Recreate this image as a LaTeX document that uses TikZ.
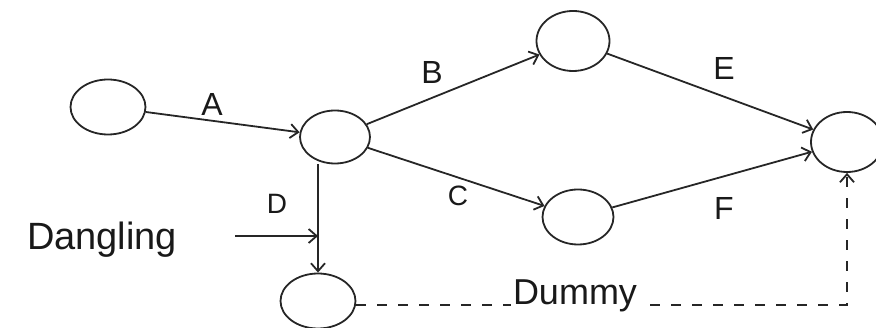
\documentclass[tikz,border=0pt]{standalone}
\usepackage{fontspec}
\setmainfont{Liberation Sans}
\usetikzlibrary{shapes.geometric,arrows.meta}
\begin{document}
\begin{tikzpicture}[x=1pt,y=-1pt,
  ev/.style={draw=black!85,ellipse,line width=1.8pt,inner sep=0pt},
  act/.style={draw=black!85,line width=1.8pt,-{Straight Barb[length=8pt,width=14pt,line width=1.8pt]}},
  lbl/.style={font=\fontsize{32}{34}\selectfont,text=black!90}]
\useasboundingbox (0,0) rectangle (876,328);
\node[ev,minimum width=75pt,minimum height=55pt] (n1) at (108,107) {};
\node[ev,minimum width=70pt,minimum height=53pt] (n2) at (335,137) {};
\node[ev,minimum width=73pt,minimum height=60pt] (n3) at (573,41) {};
\node[ev,minimum width=71pt,minimum height=55pt] (n4) at (578,217) {};
\node[ev,minimum width=72pt,minimum height=60pt] (n5) at (847,142) {};
\node[ev,minimum width=75pt,minimum height=55pt] (n6) at (318,301) {};
\draw[act] (n1) -- (n2);
\draw[act] (n2) -- (n3);
\draw[act] (n2) -- (n4);
\draw[act] (n3) -- (n5);
\draw[act] (n4) -- (n5);
\draw[act] (n6.north |- n2.south) -- (n6.north);
\node[lbl] (la) at (212,104) {A};
\node[lbl] (lb) at (432,72) {B};
\node[lbl,font=\fontsize{28}{30}\selectfont] (lc) at (458,196) {C};
\node[lbl,font=\fontsize{28}{30}\selectfont] (ld) at (277,204) {D};
\node[lbl] (le) at (724,68) {E};
\node[lbl] (lf) at (724,208) {F};
\node[lbl,font=\fontsize{38}{40}\selectfont] (dang) at (102,240) {Dangling};
\coordinate (dgs) at (235,236);
\draw[act] (dgs) -- (dgs -| n6.north);
\draw[act,dashed,dash pattern=on 10pt off 11pt] (n6.east) ++(0,4) coordinate (dms) -- (dms -| n5.south) -- (n5.south);
\node[lbl,font=\fontsize{36}{38}\selectfont,fill=white,inner sep=2pt] (dum) at (575,296) {Dummy};
\end{tikzpicture}
\end{document}
